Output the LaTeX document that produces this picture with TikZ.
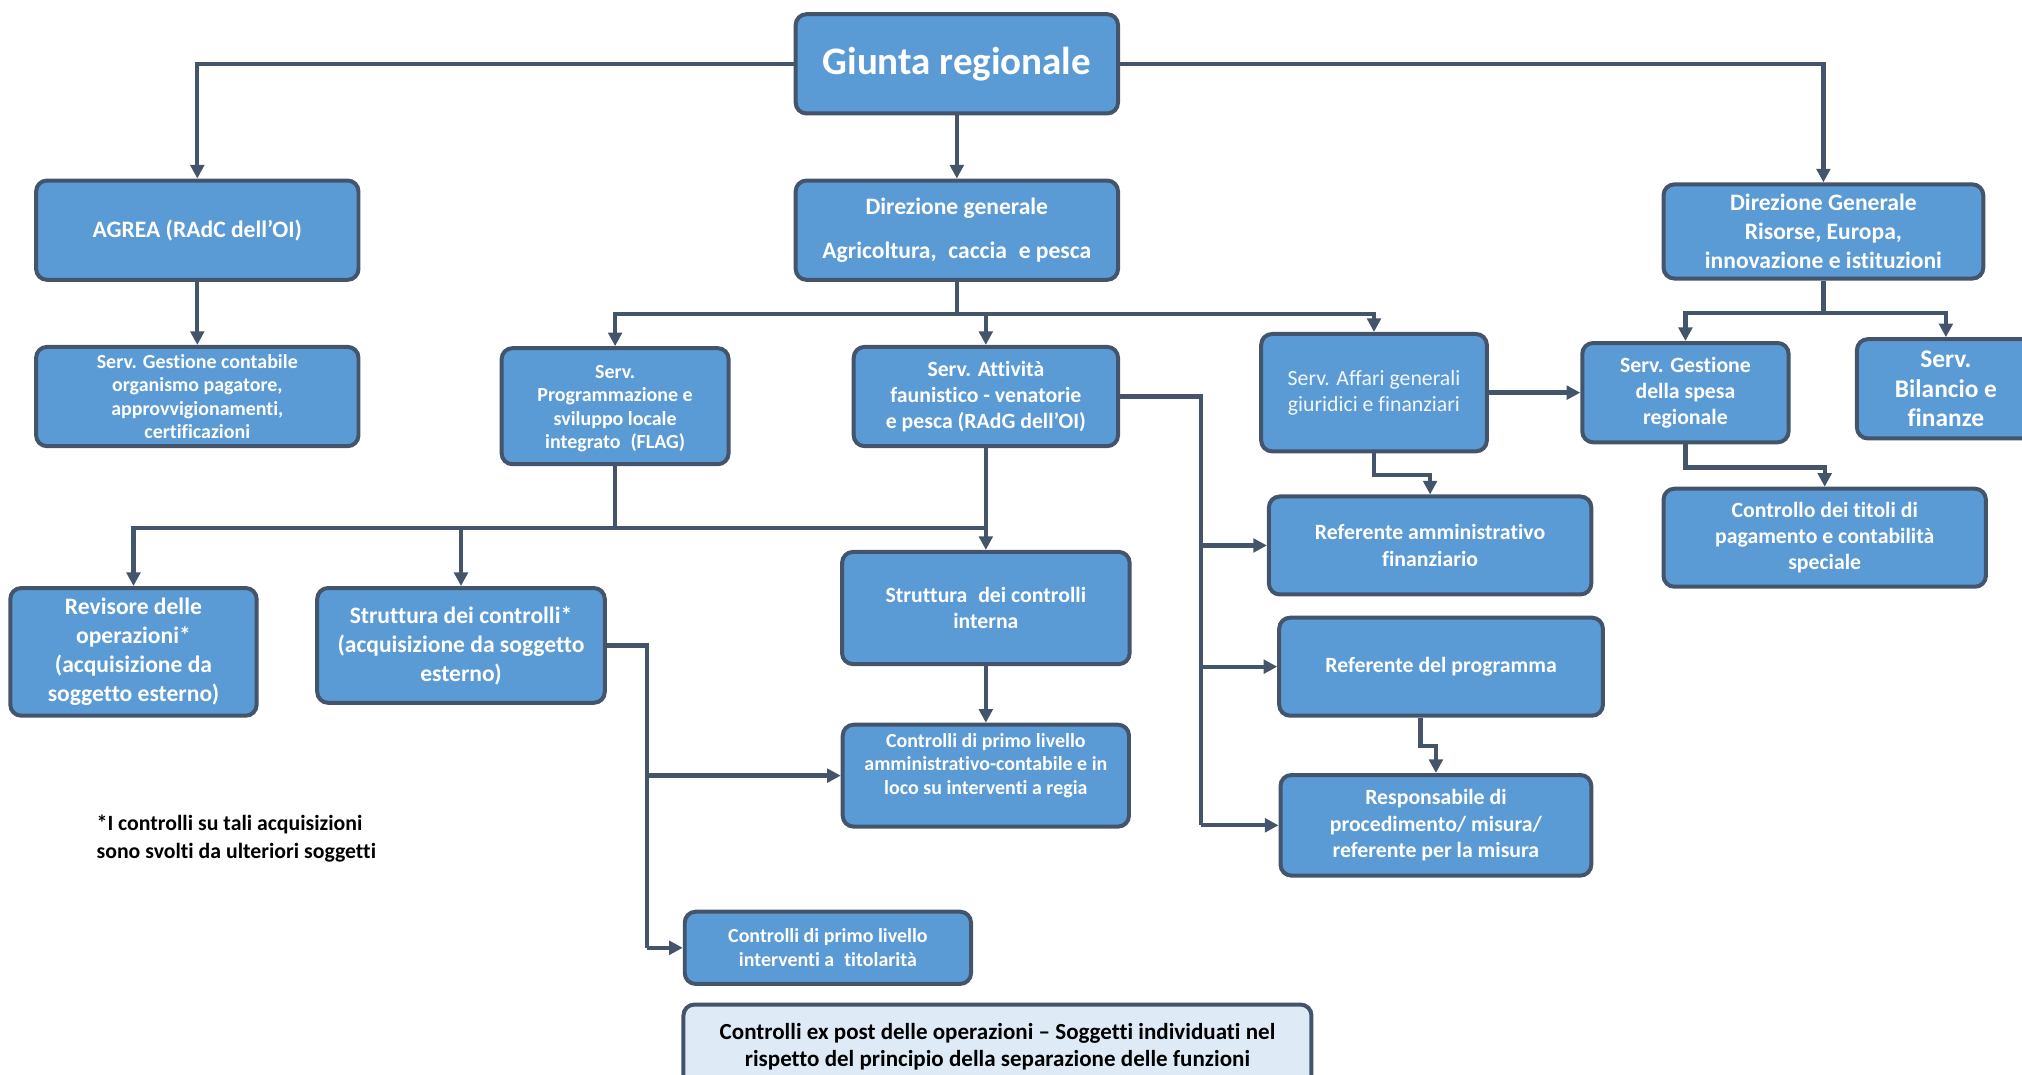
\documentclass[tikz,border=0pt]{standalone}
\usepackage{fontspec}
\setmainfont[Ligatures={NoCommon}]{Carlito}
\usepackage{tikz}
\usetikzlibrary{arrows.meta, positioning, calc}
\definecolor{myblue}{RGB}{91,155,213}
\definecolor{myslate}{RGB}{68,84,106}
\definecolor{mypale}{RGB}{222,235,247}
\newcommand{\pxu}{0.025cm}

\begin{document}
\begin{tikzpicture}[x=0.025cm,y=-0.025cm,
    blk/.style={draw=myslate,line width=2.2pt,fill=myblue,rounded corners=6pt,text=white,align=center,inner sep=0pt},
    big/.style={font=\bfseries\fontsize{21.5}{26}\selectfont},
    mid/.style={font=\bfseries\fontsize{13}{16}\selectfont},
    std/.style={font=\bfseries\fontsize{12}{14.5}\selectfont},
    sml/.style={font=\bfseries\fontsize{11}{13}\selectfont},
    conn/.style={draw=myslate,line width=2.4pt,-{Triangle[length=7.5pt,width=7.5pt]}},
    wire/.style={draw=myslate,line width=2.4pt}]
    \useasboundingbox (0,0) rectangle (1568,833);
    \node[blk,big,minimum width=250*\pxu,minimum height=77*\pxu] (giunta) at (742,49.5) {Giunta regionale};
    \node[blk,mid,minimum width=250*\pxu,minimum height=77*\pxu] (agrea) at (153,178.5) {AGREA (RAdC dell’OI)};
    \node[blk,mid,minimum width=250*\pxu,minimum height=77*\pxu] (dgagri) at (742,178.5) {Direzione generale\\[8pt]Agricoltura,\enspace caccia\enspace e pesca};
    \node[blk,mid,minimum width=248*\pxu,minimum height=73*\pxu] (dgris) at (1414,179.5) {Direzione Generale\\Risorse, Europa,\\innovazione e istituzioni};
    \node[blk,sml,minimum width=250*\pxu,minimum height=77*\pxu] (sgc) at (153,307.5) {Serv. Gestione contabile\\organismo pagatore,\\approvvigionamenti,\\certificazioni};
    \node[blk,sml,minimum width=176*\pxu,minimum height=90*\pxu] (prog) at (477,315) {\mbox{}\\[-3pt]Serv.\\Programmazione e\\sviluppo locale\\integrato\enspace(FLAG)};
    \node[blk,std,minimum width=205*\pxu,minimum height=77*\pxu] (att) at (764.5,307.5) {Serv. Attività\\faunistico - venatorie\\e pesca (RAdG dell’OI)};
    \node[blk,font=\fontsize{12}{14.5}\selectfont,text=white!92!myblue,minimum width=175*\pxu,minimum height=91*\pxu] (aff) at (1065.5,304.5) {Serv. Affari generali\\giuridici e finanziari};
    \node[blk,std,minimum width=160*\pxu,minimum height=77*\pxu] (gspesa) at (1307,304.5) {Serv. Gestione\\della spesa\\regionale};
    \node[blk,font=\bfseries\fontsize{14}{16.5}\selectfont,minimum width=138*\pxu,minimum height=77*\pxu] (bil) at (1509,301.5) {Serv.\\Bilancio e\\finanze};
    \node[blk,std,minimum width=250*\pxu,minimum height=76*\pxu] (refamm) at (1109,423) {Referente amministrativo\\finanziario};
    \node[blk,std,minimum width=250*\pxu,minimum height=76*\pxu] (ctitoli) at (1415,417) {Controllo dei titoli di\\pagamento e contabilità\\speciale};
    \node[blk,mid,minimum width=191*\pxu,minimum height=99*\pxu] (rev) at (103.5,505.5) {Revisore delle\\operazioni*\\(acquisizione da\\soggetto esterno)};
    \node[blk,mid,minimum width=223*\pxu,minimum height=89*\pxu] (sext) at (357.5,500.5) {Struttura dei controlli*\\(acquisizione da soggetto\\esterno)};
    \node[blk,std,minimum width=223*\pxu,minimum height=87*\pxu] (sint) at (764.5,471.5) {Struttura\enspace dei controlli\\interna};
    \node[blk,std,minimum width=251*\pxu,minimum height=76*\pxu] (refprog) at (1117.5,517) {Referente del programma};
    \node[blk,sml,minimum width=222*\pxu,minimum height=79*\pxu] (camm) at (764.5,601.5) {Controlli di primo livello\\amministrativo-contabile e in\\loco su interventi a regia\\\mbox{}};
    \node[blk,std,minimum width=241*\pxu,minimum height=78*\pxu] (resp) at (1113.5,640) {Responsabile di\\procedimento/ misura/\\referente per la misura};
    \node[blk,sml,minimum width=222*\pxu,minimum height=56*\pxu] (ctit) at (642,735) {Controlli di primo livello\\interventi a\enspace titolarità};
    \node[blk,font=\bfseries\fontsize{12.7}{15}\selectfont,fill=mypale,text=black,minimum width=487*\pxu,minimum height=66*\pxu] (expost) at (773.5,812) {Controlli ex post delle operazioni – Soggetti individuati nel\\rispetto del principio della separazione delle funzioni};
    \node[anchor=west,align=left,font=\bfseries\fontsize{12}{15.5}\selectfont] (note) at (70,650) {{\large *}I controlli su tali acquisizioni\\sono svolti da ulteriori soggetti};
    \draw[conn] (giunta.west) -| (agrea.north);
    \draw[conn] (giunta.east) -| (dgris.north);
    \draw[conn] (giunta.south) -- (dgagri.north);
    \draw[conn] (agrea.south) -- (sgc.north);
    \draw[wire] (dgagri.south) -- ++(0,25) coordinate (busA);
    \foreach \n in {prog,att,aff} {
        \draw[conn] (busA) -| (\n.north);
    }
    \draw[wire] (dgris.south) -- ++(0,25) coordinate (busR);
    \foreach \n in {gspesa,bil} {
        \draw[conn] (busR) -| (\n.north);
    }
    \draw[conn] (aff.east) -- (gspesa.west);
    \draw[conn] (aff.south) -- ++(0,17) -| (refamm.north);
    \draw[conn] (gspesa.south) -- ++(0,18) -| (ctitoli.north);
    \draw[wire] (prog.south) -- ++(0,48) coordinate (busB) -- (busB -| att.south);
    \foreach \n in {rev,sext} {
        \draw[conn] (busB) -| (\n.north);
    }
    \draw[conn] (att.south) -- (sint.north);
    \draw[conn] (sint.south) -- (camm.north);
    \draw[wire] (att.east) -- ++(63,0) coordinate (busC) -- (busC |- resp.west);
    \foreach \n in {refamm,refprog,resp} {
        \draw[conn] (busC |- \n.west) -- (\n.west);
    }
    \draw[wire] (sext.east) -- ++(31,0) coordinate (busD) -- (busD |- ctit.west);
    \foreach \n in {camm,ctit} {
        \draw[conn] (busD |- \n.west) -- (\n.west);
    }
    \draw[conn] ($(refprog.south)+(-16,0)$) -- ++(0,22) -| (resp.north);
\end{tikzpicture}
\end{document}
